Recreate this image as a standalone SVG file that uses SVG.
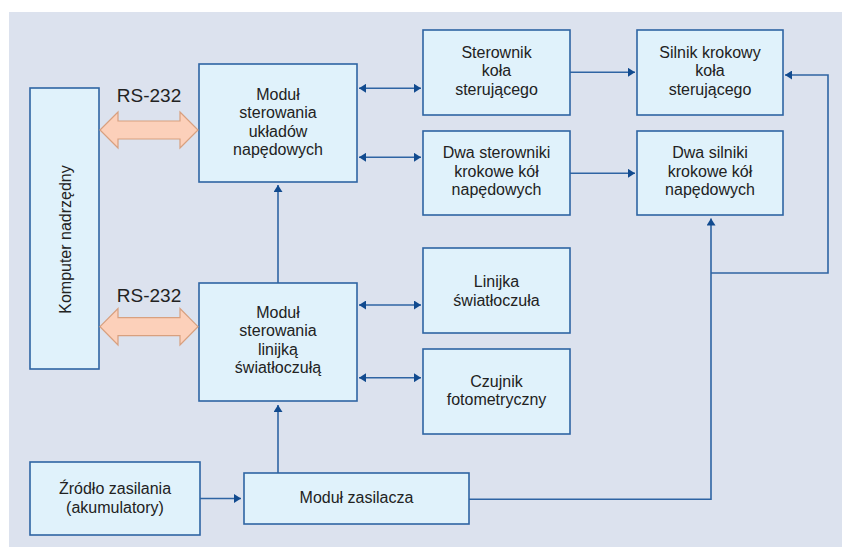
<svg xmlns="http://www.w3.org/2000/svg" width="842" height="547" viewBox="0 0 842 547">
<defs>
<style>
.box{fill:#e0f2fb;stroke:#2f64a3;stroke-width:1.6}
.t{font-family:"Liberation Sans",Arial,sans-serif;font-size:16px;fill:#222;text-anchor:middle}
.rs{font-family:"Liberation Sans",Arial,sans-serif;font-size:19px;fill:#222;text-anchor:middle}
.ln{fill:none;stroke:#2f64a3;stroke-width:1.6}
.fat{fill:#fcd0ba;stroke:#d8a07f;stroke-width:1.2}
</style>
<marker id="ah" markerUnits="userSpaceOnUse" markerWidth="8" markerHeight="9" refX="7" refY="4.5" orient="auto-start-reverse">
<path d="M0,0 L7,4.5 L0,9 z" fill="#124b8f"/>
</marker>
</defs>
<rect width="842" height="547" fill="#ffffff"/>
<rect x="9" y="12" width="833" height="535" fill="#dce2ee"/>

<g id="komputer">
<rect class="box" x="30" y="88" width="69" height="281"/>
<text class="t" transform="translate(70.5,239.5) rotate(-90)">Komputer nadrzędny</text>
</g>
<g id="modul-napedowy">
<rect class="box" x="199" y="64" width="158" height="118"/>
<text class="t" x="278" y="99.5">Moduł</text>
<text class="t" x="278" y="118">sterowania</text>
<text class="t" x="278" y="136.5">układów</text>
<text class="t" x="278" y="155">napędowych</text>
</g>
<g id="modul-linijka">
<rect class="box" x="199" y="283" width="158" height="118"/>
<text class="t" x="278" y="317.5">Moduł</text>
<text class="t" x="278" y="336">sterowania</text>
<text class="t" x="278" y="354.5">linijką</text>
<text class="t" x="278" y="373">światłoczułą</text>
</g>
<g id="sterownik-kola">
<rect class="box" x="423" y="30" width="147" height="85"/>
<text class="t" x="496.5" y="57.5">Sterownik</text>
<text class="t" x="496.5" y="76">koła</text>
<text class="t" x="496.5" y="94.5">sterującego</text>
</g>
<g id="dwa-sterowniki">
<rect class="box" x="423" y="131" width="147" height="84"/>
<text class="t" x="496.5" y="158">Dwa sterowniki</text>
<text class="t" x="496.5" y="176.5">krokowe kół</text>
<text class="t" x="496.5" y="195">napędowych</text>
</g>
<g id="silnik-krokowy">
<rect class="box" x="637" y="30" width="146" height="85"/>
<text class="t" x="710" y="57.5">Silnik krokowy</text>
<text class="t" x="710" y="76">koła</text>
<text class="t" x="710" y="94.5">sterującego</text>
</g>
<g id="dwa-silniki">
<rect class="box" x="637" y="131" width="146" height="84"/>
<text class="t" x="710" y="158">Dwa silniki</text>
<text class="t" x="710" y="176.5">krokowe kół</text>
<text class="t" x="710" y="195">napędowych</text>
</g>
<g id="linijka">
<rect class="box" x="423" y="248" width="147" height="85"/>
<text class="t" x="496.5" y="287.3">Linijka</text>
<text class="t" x="496.5" y="305.7">światłoczuła</text>
</g>
<g id="czujnik">
<rect class="box" x="423" y="349" width="147" height="85"/>
<text class="t" x="496.5" y="386.7">Czujnik</text>
<text class="t" x="496.5" y="405">fotometryczny</text>
</g>
<g id="zrodlo">
<rect class="box" x="30" y="462" width="170" height="73"/>
<text class="t" x="115" y="494">Źródło zasilania</text>
<text class="t" x="115" y="513.3">(akumulatory)</text>
</g>
<g id="zasilacz">
<rect class="box" x="244" y="473" width="225" height="51"/>
<text class="t" x="356.5" y="503.3">Moduł zasilacza</text>
</g>

<g id="rs232">
<text class="rs" x="149" y="102">RS-232</text>
<path class="fat" d="M100,130 L118,112 L118,121 L180,121 L180,112 L198,130 L180,148 L180,139 L118,139 L118,148 z"/>
<text class="rs" x="149" y="302">RS-232</text>
<path class="fat" d="M100,326.7 L118,308.5 L118,317.7 L180,317.7 L180,308.5 L198,326.7 L180,345 L180,335.7 L118,335.7 L118,345 z"/>
</g>

<g id="connectors">
<path class="ln" d="M359,88.3 L421,88.3" marker-start="url(#ah)" marker-end="url(#ah)"/>
<path class="ln" d="M359,157.3 L421,157.3" marker-start="url(#ah)" marker-end="url(#ah)"/>
<path class="ln" d="M359,305 L421,305" marker-start="url(#ah)" marker-end="url(#ah)"/>
<path class="ln" d="M359,377.7 L421,377.7" marker-start="url(#ah)" marker-end="url(#ah)"/>
<path class="ln" d="M570,72.3 L635,72.3" marker-end="url(#ah)"/>
<path class="ln" d="M570,173.3 L635,173.3" marker-end="url(#ah)"/>
<path class="ln" d="M278,283 L278,185" marker-end="url(#ah)"/>
<path class="ln" d="M278,473 L278,405" marker-end="url(#ah)"/>
<path class="ln" d="M200,498.5 L241,498.5" marker-end="url(#ah)"/>
<path class="ln" d="M469,499.3 L711,499.3 L711,218.5" marker-end="url(#ah)"/>
<path class="ln" d="M711,273 L828,273 L828,75 L785,75" marker-end="url(#ah)"/>
</g>
</svg>
